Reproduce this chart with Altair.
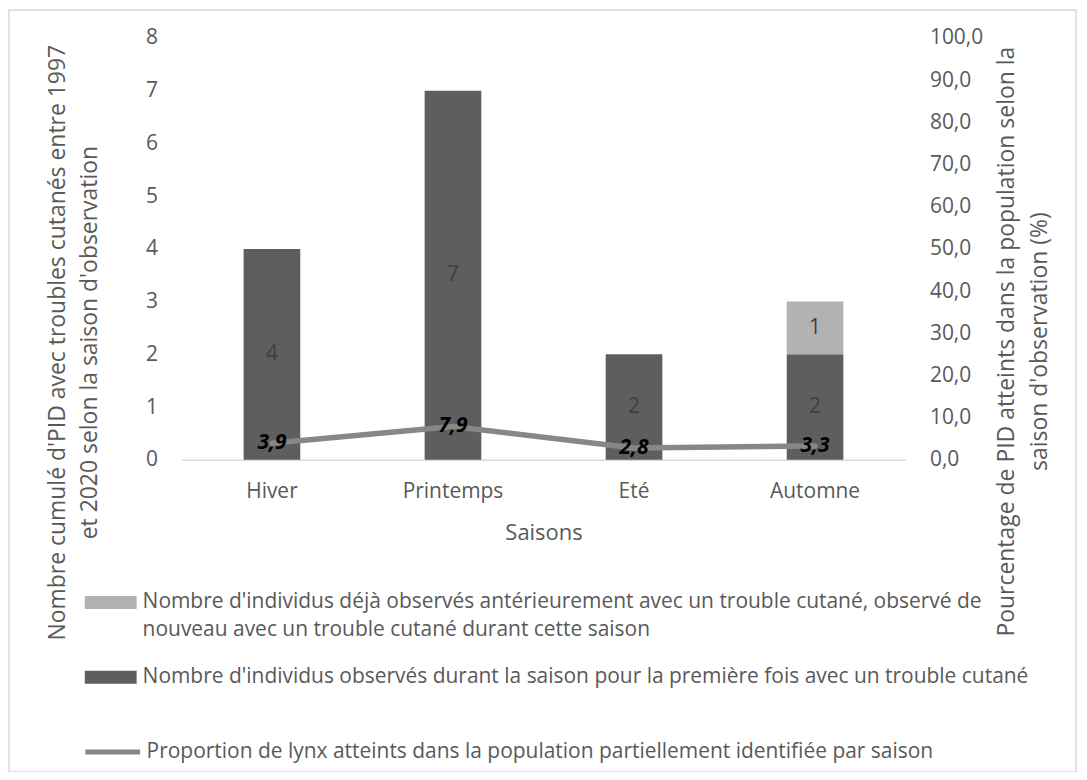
import json
import altair as alt
import pandas as pd

# ---------------- data ----------------
saisons = ["Hiver", "Printemps", "Eté", "Automne"]
premiere_fois = [4, 7, 2, 2]
deja_observes = [0, 0, 0, 1]
proportion = [3.9, 7.9, 2.8, 3.3]

serie_premiere = "Nombre d'individus observés durant la saison pour la première fois avec un trouble cutané"
serie_deja = ("Nombre d'individus déjà observés antérieurement avec un trouble cutané, "
              "observé de nouveau avec un trouble cutané durant cette saison")
serie_prop = "Proportion de lynx atteints dans la population partiellement identifiée par saison"

deja_lines = ["Nombre d'individus déjà observés antérieurement avec un trouble cutané, observé de",
              "nouveau avec un trouble cutané durant cette saison"]

left_title = ["Nombre cumulé d'PID avec troubles cutanés entre 1997",
              "et 2020 selon la saison d'observation"]
right_title = ["Pourcentage de PID atteints dans la population selon la",
               "saison d'observation (%)"]

rows = []
for s, a, b in zip(saisons, premiere_fois, deja_observes):
    rows.append({"saison": s, "serie": serie_premiere, "n": a, "ordre": 0})
    rows.append({"saison": s, "serie": serie_deja, "n": b, "ordre": 1})
bars_df = pd.DataFrame(rows)

line_df = pd.DataFrame({
    "saison": saisons,
    "prop": proportion,
    "serie": serie_prop,
    "label": [f"{v:.1f}".replace(".", ",") for v in proportion],
})

FONT = "Open Sans"
GREY_TXT = "#595959"
FS = 21
W, H = 726, 423

x_enc = alt.X(
    "saison:N", sort=saisons,
    scale=alt.Scale(paddingInner=0.687, paddingOuter=0.343),
    axis=alt.Axis(domainColor="#d9d9d9", domainWidth=1.5, ticks=False, labelAngle=0,
                  labelFontSize=FS, labelColor=GREY_TXT, labelPadding=21, labelFont=FONT,
                  title="Saisons", titleFontSize=22, titleColor=GREY_TXT,
                  titleFontWeight="normal", titleFont=FONT, titlePadding=21),
)
x_plain = alt.X("saison:N", sort=saisons)

left_axis = alt.Axis(values=list(range(9)), format="d", domain=False, ticks=False, grid=False,
                     labelFontSize=FS, labelColor=GREY_TXT, labelPadding=24, labelFont=FONT,
                     title=left_title, titleFontSize=23, titleColor=GREY_TXT,
                     titleFontWeight="normal", titleFont=FONT, titleAngle=270,
                     titleX=-135, titleY=305, titleAlign="center", titleBaseline="top",
                     titleLineHeight=32)

right_axis = alt.Axis(orient="right", values=list(range(0, 101, 10)),
                      labelExpr="replace(format(datum.value, '.1f'), '.', ',')",
                      domain=False, ticks=False, grid=False,
                      labelFontSize=FS, labelColor=GREY_TXT, labelPadding=24, labelFont=FONT,
                      labelAlign="left",
                      title=right_title, titleFontSize=23, titleColor=GREY_TXT,
                      titleFontWeight="normal", titleFont=FONT, titleAngle=270,
                      titleX=90, titleY=304, titleAlign="center", titleBaseline="top",
                      titleLineHeight=33)

label_expr = ("indexof(datum.label, 'antérieurement') >= 0 ? "
              + json.dumps(deja_lines) + " : datum.label")

bar_legend = alt.Legend(title=None, orient="none", legendX=-97, legendY=540,
                        direction="vertical",
                        symbolType="M-1,-0.25H1V0.25H-1Z", symbolSize=2704,
                        symbolStrokeWidth=0, symbolOpacity=1,
                        labelFontSize=FS, labelColor=GREY_TXT, labelFont=FONT,
                        labelOffset=6, labelLimit=1000, rowPadding=11,
                        labelExpr=label_expr)

line_legend = alt.Legend(title=None, orient="none", legendX=-99, legendY=686,
                         symbolType="stroke", symbolSize=3025, symbolStrokeWidth=5,
                         labelFontSize=FS, labelColor=GREY_TXT, labelFont=FONT,
                         labelOffset=4, labelLimit=1000)

ybar_scale = alt.Scale(domain=[0, 8])
yline_scale = alt.Scale(domain=[0, 100])

bars = alt.Chart(bars_df).mark_bar().encode(
    x=x_enc,
    y=alt.Y("n:Q", stack="zero", scale=ybar_scale, axis=left_axis),
    color=alt.Color("serie:N",
                    scale=alt.Scale(domain=[serie_deja, serie_premiere],
                                    range=["#b2b2b2", "#5e5e5e"]),
                    legend=bar_legend),
    order=alt.Order("ordre:Q"),
)

bar_text = alt.Chart(bars_df).transform_filter("datum.n > 0").transform_stack(
    stack="n", groupby=["saison"], as_=["y0", "y1"], sort=[alt.SortField("ordre")]
).transform_calculate(ymid="(datum.y0 + datum.y1) / 2").mark_text(
    fontSize=FS, color="#404040", font=FONT
).encode(
    x=x_plain,
    y=alt.Y("ymid:Q", scale=ybar_scale, axis=None),
    text="n:Q",
)

line = alt.Chart(line_df).mark_line(strokeWidth=5.5, strokeCap="round").encode(
    x=x_plain,
    y=alt.Y("prop:Q", scale=yline_scale, axis=right_axis),
    color=alt.Color("serie:N", scale=alt.Scale(domain=[serie_prop], range=["#878787"]),
                    legend=line_legend),
)

line_text = alt.Chart(line_df).mark_text(
    fontSize=FS, fontWeight="bold", fontStyle="italic", color="black", font=FONT
).encode(
    x=x_plain,
    y=alt.Y("prop:Q", scale=yline_scale, axis=None),
    text="label:N",
)

frame = alt.Chart(pd.DataFrame({"k": [0]})).mark_rect(
    fill=None, stroke="#d9d9d9", strokeWidth=1.5
).encode(
    x=alt.value(-173), x2=alt.value(897), y=alt.value(-28), y2=alt.value(736)
)

chart = alt.layer(bars, bar_text, line, line_text, frame).resolve_scale(
    y="independent", color="independent"
).properties(
    width=W, height=H,
    autosize=alt.AutoSizeParams(type="none"),
    padding={"left": 174, "top": 29, "right": 174, "bottom": 312},
).configure(
    font=FONT, style={"guide-label": {"lineHeight": 28}}
).configure_view(strokeWidth=0, stroke="transparent")

chart.save("out.html", embed_options={"renderer": "svg", "actions": False})
